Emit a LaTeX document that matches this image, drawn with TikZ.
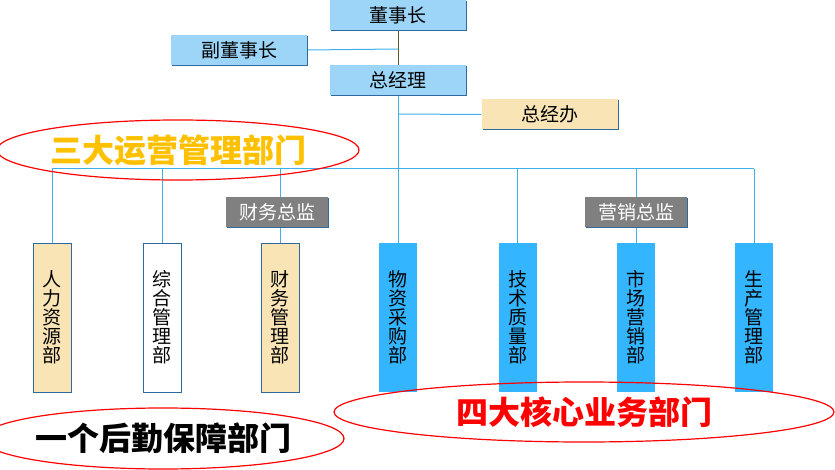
\documentclass[tikz,border=0pt]{standalone}
\usepackage{fontspec}
\setmainfont{Noto Sans CJK SC}
\usetikzlibrary{shapes.geometric,shadows,backgrounds}
\definecolor{lblue}{HTML}{9DD5F8}
\definecolor{beige}{HTML}{F9E4B5}
\definecolor{dblue}{HTML}{33B5FF}
\definecolor{shadowc}{HTML}{2E6A9E}
\definecolor{linec}{HTML}{3DB0EC}
\definecolor{olive}{HTML}{5A5A3A}
\definecolor{gold}{HTML}{FFC000}
\definecolor{grayb}{HTML}{808080}
\tikzset{
  topbox/.style={rectangle, fill=lblue, minimum width=136pt, minimum height=30pt, inner sep=0pt,
    drop shadow={shadow xshift=1pt, shadow yshift=-1pt, fill=shadowc, opacity=1},
    font=\fontsize{19}{21}\selectfont},
  offbox/.style={topbox, fill=beige},
  dirbox/.style={rectangle, fill=grayb, text=white, minimum width=102pt, minimum height=30pt, inner sep=0pt,
    drop shadow={shadow xshift=1pt, shadow yshift=-1pt, fill=shadowc, opacity=1},
    font=\fontsize{19}{21}\selectfont},
  dept/.style={rectangle, minimum width=38pt, minimum height=149pt, inner sep=0pt, align=center,
    font=\fontsize{19}{19}\selectfont},
  deptA/.style={dept, fill=beige, draw=shadowc, line width=0.8pt},
  deptW/.style={dept, fill=white, draw=shadowc, line width=0.8pt},
  deptB/.style={dept, fill=dblue},
  conn/.style={draw=linec, line width=1pt},
  ring/.style={ellipse, draw=red, line width=1.2pt, inner sep=0pt, font=\bfseries\fontsize{32}{34}\selectfont},
}
\begin{document}
\begin{tikzpicture}[x=1pt,y=-1pt]
\useasboundingbox (0,0) rectangle (835,470);
% top
\node[topbox] (dsz) at (398,15) {董事长};
\node[topbox] (fdsz) at (239,50) {副董事长};
\node[topbox] (zjl) at (398,80.5) {总经理};
\node[offbox] (zjb) at (549.5,114.5) {总经办};
% directors
\node[dirbox] (cwzj) at (277,212) {财务总监};
\node[dirbox] (yxzj) at (636,212) {营销总监};
% departments
\node[deptA] (rl) at (52,317.5) {人\\力\\资\\源\\部};
\node[deptW] (zh) at (162,317.5) {综\\合\\管\\理\\部};
\node[deptA] (cw) at (280,317.5) {财\\务\\管\\理\\部};
\node[deptB] (wz) at (398,317.5) {物\\资\\采\\购\\部};
\node[deptB] (js) at (517.5,317.5) {技\\术\\质\\量\\部};
\node[deptB] (sc) at (636,317.5) {市\\场\\营\\销\\部};
\node[deptB] (scgl) at (754,317.5) {生\\产\\管\\理\\部};
% bus coordinates
\coordinate (bl) at (52,169);
\coordinate (br) at (754,169);
\coordinate (j1) at (398,49);
\coordinate (j2) at (398,114);
\coordinate (bz) at (162,169);
\coordinate (bc) at (280,169);
\coordinate (bj) at (517.5,169);
\coordinate (bs) at (636,169);
\begin{scope}[on background layer]
\draw[olive, line width=1pt] (dsz.south) -- (zjl.north);
\draw[conn] (fdsz.east) -- (j1);
\draw[conn] (zjl.south) -- (wz.north);
\draw[conn] (j2) -- (zjb.west);
\draw[conn] (bl) -- (br);
\draw[conn] (bl) -- (rl.north);
\draw[conn] (bz) -- (zh.north);
\draw[conn] (bc) -- (cw.north);
\draw[conn] (bj) -- (js.north);
\draw[conn] (bs) -- (sc.north);
\draw[conn] (br) -- (scgl.north);
\end{scope}
% rings
\node[ring, text=gold, minimum width=324pt, minimum height=60pt] (t1) at (178,150) {三大运营管理部门};
\node[ring, text=black, minimum width=323pt, minimum height=61pt] (t2) at (163,438.5) {一个后勤保障部门};
\node[ring, text=red, minimum width=500pt, minimum height=60pt] (t3) at (584,412) {四大核心业务部门};
\end{tikzpicture}
\end{document}
